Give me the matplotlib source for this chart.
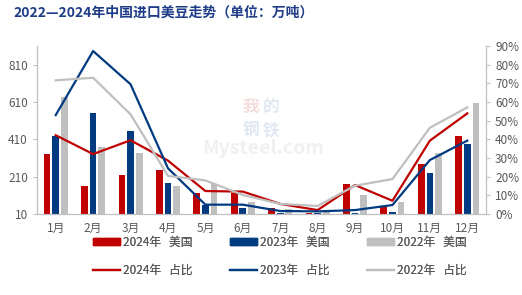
import matplotlib
matplotlib.use("Agg")
from matplotlib import pyplot as plt
from matplotlib.patches import Patch
from matplotlib.lines import Line2D
import numpy as np

plt.rcParams['font.family'] = ['Noto Sans CJK SC', 'DejaVu Sans']

months = ["1月", "2月", "3月", "4月", "5月", "6月", "7月", "8月", "9月", "10月", "11月", "12月"]

# 进口量（万吨）
vol_2024 = [331, 162, 219, 246, 122, 122, 42, 18, 171, 50, 278, 428]
vol_2023 = [428, 551, 456, 176, 58, 44, 17, 16, 17, 22, 231, 385]
vol_2022 = [638, 371, 338, 162, 171, 74, 37, 20, 113, 76, 338, 606]

# 占比（%）
share_2024 = [42.2, 32.1, 39.5, 28.6, 12.3, 12.0, 5.4, 2.1, 15.5, 7.1, 39.3, 53.9]
share_2023 = [53.0, 87.3, 69.5, 24.5, 5.0, 5.0, 1.6, 1.4, 2.1, 4.8, 28.9, 39.3]
share_2022 = [71.6, 73.0, 53.4, 20.4, 18.0, 10.2, 5.4, 4.3, 15.2, 18.7, 46.2, 57.1]

c_red = "#C00000"
c_blue = "#003A80"
c_gray = "#BFBFBF"
c_axis = "#BFBFBF"
c_text = "#595959"

fig = plt.figure(figsize=(5.22, 2.95), dpi=100)
ax = fig.add_axes([37 / 522, 1 - 214 / 295, (486 - 37) / 522, (214 - 46) / 295])
ax2 = ax.twinx()

x = np.arange(len(months))
w = 0.18
off = 0.23
ax.bar(x - off, vol_2024, w, color=c_red, zorder=2)
ax.bar(x, vol_2023, w, color=c_blue, zorder=2)
ax.bar(x + off, vol_2022, w, color=c_gray, zorder=2)

ax2.plot(x, share_2024, color=c_red, lw=1.6)
ax2.plot(x, share_2023, color=c_blue, lw=1.6)
ax2.plot(x, share_2022, color=c_gray, lw=1.6)

ax.set_xlim(-0.5, 11.5)
ax.set_ylim(10, 910)
ax.set_yticks([10, 210, 410, 610, 810])
ax2.set_ylim(0, 90)
ax2.set_yticks(range(0, 91, 10))
ax2.set_yticklabels([f"{v}%" for v in range(0, 91, 10)])
ax.set_xticks(x)
ax.set_xticklabels(months)

for a in (ax, ax2):
    a.spines['top'].set_visible(False)
    for s in ('left', 'right', 'bottom'):
        a.spines[s].set_color(c_axis)
        a.spines[s].set_linewidth(0.8)
    a.tick_params(colors=c_text, labelsize=8.5, length=3, width=0.8)
    a.tick_params(axis='y', color=c_axis)
ax.tick_params(axis='x', length=0, pad=6)
ax.set_zorder(ax2.get_zorder() - 1)
ax.patch.set_visible(False)

# 水印
wm = dict(fontsize=12, ha='center', va='center', fontweight='bold')
fig.text(251 / 522, 1 - 107 / 295, "我", color="#F6DCDC", **wm)
fig.text(271 / 522, 1 - 107 / 295, "的", color="#E2E8F2", **wm)
fig.text(251 / 522, 1 - 130 / 295, "钢", color="#E2E8F2", **wm)
fig.text(271 / 522, 1 - 130 / 295, "铁", color="#E2E8F2", **wm)
fig.text(263 / 522, 1 - 148 / 295, "Mysteel.com", color="#F0F0F0", fontsize=14,
         ha='center', va='center', fontweight='bold')

fig.text(13 / 522, 1 - 13 / 295, "2022—2024年中国进口美豆走势（单位：万吨）", color="#1F3C88",
         fontsize=10, fontweight='bold', ha='left', va='center')

# 图例：三列，每列一个年份
years = ["2024年", "2023年", "2022年"]
colors = [c_red, c_blue, c_gray]
col_x = [93, 230, 367]
for yr, c, cx in zip(years, colors, col_x):
    leg = fig.legend([Patch(color=c), Line2D([], [], color=c, lw=1.6)],
                     [yr + "   美国", yr + "   占比"],
                     loc='center left', bbox_to_anchor=(cx / 522, 1 - 256.5 / 295),
                     frameon=False, fontsize=8.5, labelcolor=c_text, handlelength=2.3,
                     handleheight=0.6, labelspacing=1.3, handletextpad=0.25,
                     borderpad=0, borderaxespad=0)
    fig.add_artist(leg)

fig.savefig("out.png", dpi=100)
